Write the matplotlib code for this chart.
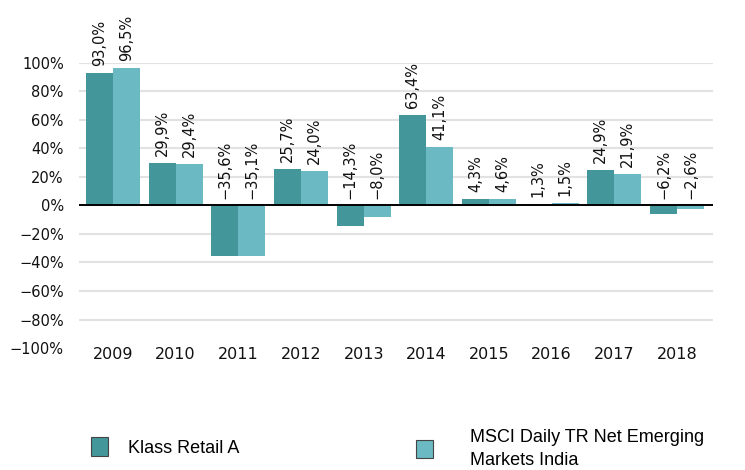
import matplotlib
matplotlib.use('Agg')
import matplotlib.pyplot as plt
import matplotlib.patches as mpatches
import numpy as np

plt.rcParams['font.family'] = ['DejaVu Sans']

years = ['2009', '2010', '2011', '2012', '2013', '2014', '2015', '2016', '2017', '2018']
fund = [93.0, 29.9, -35.6, 25.7, -14.3, 63.4, 4.3, 1.3, 24.9, -6.2]
index = [96.5, 29.4, -35.1, 24.0, -8.0, 41.1, 4.6, 1.5, 21.9, -2.6]
names = ['Klass Retail A', 'MSCI Daily TR Net Emerging\nMarkets India']
colors = ['#43979a', '#6bb9c2']
yticks = [-100, -80, -60, -40, -20, 0, 20, 40, 60, 80, 100]

def fmt(v):
    return ('%.1f%%' % v).replace('.', ',').replace('-', '\u2212')

fig = plt.figure(figsize=(7.45, 4.70), dpi=100)
ax = fig.add_axes([79 / 745, 1 - 348 / 470, (712.7 - 79) / 745, (348 - 63) / 470])

x = np.arange(len(years))
w = 0.431
for i, (vals, c) in enumerate(zip([fund, index], colors)):
    pos = x - w / 2 + i * w
    ax.bar(pos, vals, width=w, color=c, zorder=2)
    for p, v in zip(pos, vals):
        ax.annotate(fmt(v), (p, max(v, 0)), xytext=(0, 5), textcoords='offset points',
                    rotation=90, ha='center', va='bottom', fontsize=10.5,
                    color='#111111', annotation_clip=False)

ax.set_xlim(-0.5425, 9.57)
ax.set_ylim(-100, 100)
ax.set_yticks(yticks)
ax.set_yticklabels([('%d%%' % t).replace('-', '\u2212') for t in yticks], fontsize=10.5, color='#111111')
ax.set_xticks(x)
ax.set_xticklabels(years, fontsize=11.5, color='#111111')
ax.tick_params(axis='y', length=0, pad=11)
ax.tick_params(axis='x', length=0, pad=-1)
ax.grid(axis='y', color='#e2e2e2', linewidth=1.5, zorder=0)
ax.yaxis.get_gridlines()[0].set_visible(False)
ax.set_axisbelow(True)
ax.axhline(0, color='black', linewidth=1.4, zorder=3)
for s in ax.spines.values():
    s.set_visible(False)

# legend, two separate entries at the bottom
anchors = [(91 / 745, 1 - 447 / 470), (416 / 745, 1 - 449 / 470)]
pads = [1.1, 2.05]
for name, c, anc, pad in zip(names, colors, anchors, pads):
    h = mpatches.Patch(facecolor=c, edgecolor='#444444', linewidth=0.8)
    leg = fig.legend([h], [name], loc='center left', bbox_to_anchor=anc, frameon=False,
                     borderpad=0, borderaxespad=0, handlelength=0.95, handleheight=1.17,
                     handletextpad=pad, prop={'family': 'Liberation Sans', 'size': 13})
    for t in leg.get_texts():
        t.set_linespacing(1.45)

plt.savefig('out.png', dpi=100)
